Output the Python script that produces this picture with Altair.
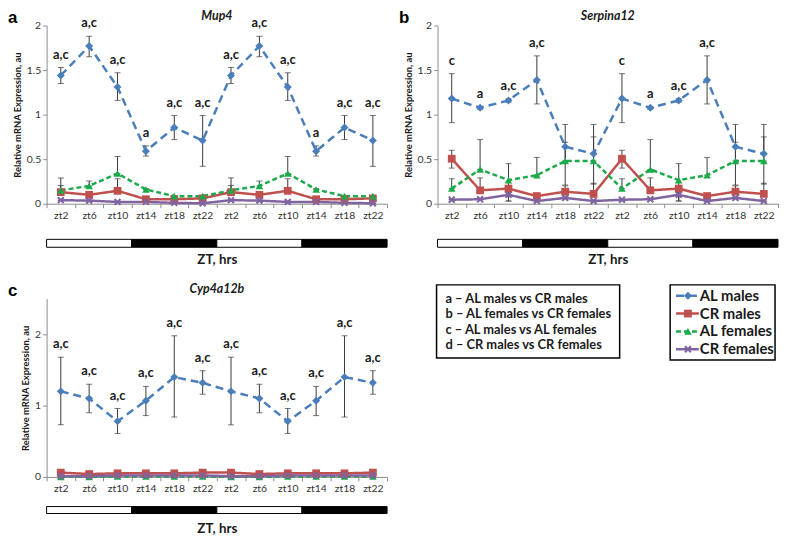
import altair as alt
import pandas as pd

# ---------------- categories ----------------
ZT = ["zt2", "zt6", "zt10", "zt14", "zt18", "zt22"]
# double-plotted 24 h cycle; the trailing space keeps the second cycle distinct
CATS = ZT + [z + " " for z in ZT]

SERIES = ["AL males", "CR males", "AL females", "CR females"]
COLORS = ["#4a7ebb", "#c0504d", "#1aaa4a", "#8064a2"]
DASHES = [[8, 5], [1, 0], [5, 3], [1, 0]]
X_PATH = ("M-1,-0.6L-0.6,-1L0,-0.4L0.6,-1L1,-0.6L0.4,0L1,0.6L0.6,1L0,0.4"
          "L-0.6,1L-1,0.6L-0.4,0Z")
SHAPES = ["diamond", "square", "triangle-up", X_PATH]
SIZES = [65, 55, 65, 60]

# light / dark bar (in category units)
LD_START = [0, 3, 6, 9]
LD_END = [3, 6, 9, 12]
LD_FILL = ["white", "black", "white", "black"]

# ---------------- Mup4 ----------------
MUP4_ALM = [1.44, 1.77, 1.31, 0.59, 0.855, 0.71]
MUP4_ALM_LO = [1.35, 1.65, 1.16, 0.535, 0.72, 0.42]
MUP4_ALM_HI = [1.53, 1.88, 1.47, 0.65, 0.99, 0.99]
MUP4_CRM = [0.13, 0.10, 0.145, 0.05, 0.05, 0.06]
MUP4_CRM_HI = [0.205, 0.13, 0.28, 0.06, 0.06, 0.07]
MUP4_ALF = [0.15, 0.20, 0.34, 0.16, 0.085, 0.085]
MUP4_ALF_HI = [0.29, 0.255, 0.53, 0.17, 0.09, 0.09]
MUP4_CRF = [0.04, 0.035, 0.02, 0.02, 0.01, 0.005]
MUP4_LABELS = ["a,c", "a,c", "a,c", "a", "a,c", "a,c"]

# ---------------- Serpina12 ----------------
SERP_ALM = [1.18, 1.077, 1.16, 1.39, 0.64, 0.56]
SERP_ALM_LO = [0.91, 1.06, 1.14, 1.12, 0.21, 0.22]
SERP_ALM_HI = [1.46, 1.09, 1.18, 1.66, 0.89, 0.89]
SERP_CRM = [0.505, 0.15, 0.17, 0.086, 0.135, 0.11]
SERP_CRM_LO = [0.40, 0.15, 0.17, 0.086, 0.135, 0.11]
SERP_CRM_HI = [0.60, 0.29, 0.17, 0.086, 0.20, 0.23]
SERP_ALF = [0.17, 0.385, 0.265, 0.32, 0.48, 0.48]
SERP_ALF_LO = [0.17, 0.385, 0.03, 0.32, 0.48, 0.48]
SERP_ALF_HI = [0.28, 0.72, 0.45, 0.52, 0.69, 0.75]
SERP_CRF = [0.045, 0.05, 0.10, 0.03, 0.065, 0.03]
SERP_CRF_LO = [0.045, 0.05, 0.03, 0.03, 0.065, 0.03]
SERP_CRF_HI = [0.045, 0.05, 0.13, 0.03, 0.065, 0.03]
SERP_LABELS = ["c", "a", "a,c", "a,c", "", ""]

# ---------------- Cyp4a12b ----------------
CYP_ALM = [1.20, 1.10, 0.78, 1.07, 1.40, 1.32]
CYP_ALM_LO = [0.73, 0.90, 0.61, 0.86, 0.84, 1.16]
CYP_ALM_HI = [1.68, 1.30, 0.96, 1.27, 1.98, 1.49]
CYP_CRM = [0.06, 0.04, 0.05, 0.05, 0.05, 0.06]
CYP_CRM_HI = [0.07, 0.05, 0.06, 0.06, 0.06, 0.08]
CYP_ALF = [0.0, 0.0, 0.005, 0.005, 0.005, 0.005]
CYP_CRF = [0.01, 0.01, 0.02, 0.02, 0.02, 0.02]
CYP_LABELS = ["a,c", "a,c", "a,c", "a,c", "a,c", "a,c"]

# ---------------- legend texts ----------------
KEY_LINES = ["a \u2013 AL males vs CR males",
             "b \u2013 AL females vs CR females",
             "c \u2013 AL males vs AL females",
             "d \u2013 CR males vs CR females"]

FONT = "Lato"
W = 344
H = 180


def build_df(means, los, his, labels):
    rows = []
    for s, m, lo, hi in zip(SERIES, means, los, his):
        for cyc in range(2):
            for i in range(6):
                rows.append(dict(cat=CATS[cyc * 6 + i], series=s, mean=m[i],
                                 lo=lo[i], hi=hi[i],
                                 lab=labels[i] if s == "AL males" else ""))
    return pd.DataFrame(rows)


def panel(name, letter, means, los, his, labels, ymax, yvals, bar_top, bar_h, title_pad):
    df = build_df(means, los, his, labels)
    base = alt.Chart(df)
    xenc = alt.X("cat:N", sort=CATS,
                 scale=alt.Scale(type="band", domain=CATS, paddingInner=0, paddingOuter=0),
                 axis=alt.Axis(title="ZT, hrs", labelAngle=0, tickBand="extent",
                               titlePadding=title_pad, tickSize=4, labelPadding=3,
                               labelFontSize=10.5, labelColor="#333333",
                               titleFontSize=13.5, titleFontWeight="bold",
                               titleColor="#1a1a1a", domainColor="#8c8c8c",
                               tickColor="#8c8c8c", labelFont=FONT, titleFont=FONT))
    yscale = alt.Scale(domain=[0, ymax], nice=False, zero=True)
    yaxis = alt.Axis(values=yvals, format="~g", grid=False,
                     title="Relative mRNA Expression, au", titleFontSize=9.5,
                     titleFontWeight="bold", titleColor="#1a1a1a", titlePadding=4,
                     labelFontSize=10.5, labelColor="#333333", labelPadding=2,
                     tickSize=4, domainColor="#8c8c8c", tickColor="#8c8c8c",
                     labelFont=FONT, titleFont=FONT)

    def Y(field):
        return alt.Y(field, scale=yscale, axis=yaxis)

    color = alt.Color("series:N", scale=alt.Scale(domain=SERIES, range=COLORS), legend=None)

    err = base.mark_rule(color="#3a3a3a", strokeWidth=1).encode(
        x=xenc, y=Y("lo:Q"), y2="hi:Q")
    cap_hi = base.mark_tick(color="#3a3a3a", size=6, thickness=1).encode(
        x=xenc, y=Y("hi:Q"))
    cap_lo = base.mark_tick(color="#3a3a3a", size=6, thickness=1).encode(
        x=xenc, y=Y("lo:Q"))
    line = base.mark_line(strokeWidth=2.5).encode(
        x=xenc, y=Y("mean:Q"), color=color,
        strokeDash=alt.StrokeDash("series:N",
                                  scale=alt.Scale(domain=SERIES, range=DASHES),
                                  legend=None))
    pts = base.mark_point(filled=True, opacity=1).encode(
        x=xenc, y=Y("mean:Q"), color=color,
        shape=alt.Shape("series:N", scale=alt.Scale(domain=SERIES, range=SHAPES),
                        legend=None),
        size=alt.Size("series:N", scale=alt.Scale(domain=SERIES, range=SIZES),
                      legend=None))
    txt = base.transform_filter("datum.lab != ''").mark_text(
        font=FONT, fontSize=13, fontWeight="bold", color="#1a1a1a",
        baseline="alphabetic", dy=-9).encode(
        x=xenc, y=Y("hi:Q"), text="lab:N")

    data_layers = alt.layer(err, cap_hi, cap_lo, line, pts, txt)

    ld = pd.DataFrame({"s": LD_START, "e": LD_END, "f": LD_FILL})
    bar = alt.Chart(ld).mark_rect(stroke="black", strokeWidth=1).encode(
        x=alt.X("s:Q", scale=alt.Scale(domain=[0, 12], nice=False), axis=None),
        x2="e:Q",
        y=alt.value(bar_top), y2=alt.value(bar_top + bar_h),
        fill=alt.Fill("f:N", scale=None))

    let = alt.Chart(pd.DataFrame({"t": [letter]})).mark_text(
        font="Liberation Sans", fontSize=17, fontWeight="bold", align="left",
        baseline="middle", color="black").encode(
        x=alt.value(-39), y=alt.value(-8), text="t:N")
    gene = alt.Chart(pd.DataFrame({"t": [name]})).mark_text(
        font=FONT, fontSize=12.5, fontWeight="bold", fontStyle="italic",
        align="center", baseline="middle", color="#1a1a1a").encode(
        x=alt.value(W / 2), y=alt.value(-10), text="t:N")

    return alt.layer(data_layers, bar, let, gene).resolve_scale(
        x="independent").properties(width=W, height=H)


pa = panel("Mup4", "a",
           [MUP4_ALM, MUP4_CRM, MUP4_ALF, MUP4_CRF],
           [MUP4_ALM_LO, MUP4_CRM, MUP4_ALF, MUP4_CRF],
           [MUP4_ALM_HI, MUP4_CRM_HI, MUP4_ALF_HI, MUP4_CRF],
           MUP4_LABELS, 2, [0, 0.5, 1, 1.5, 2], H + 36, 8, 32)
pb = panel("Serpina12", "b",
           [SERP_ALM, SERP_CRM, SERP_ALF, SERP_CRF],
           [SERP_ALM_LO, SERP_CRM_LO, SERP_ALF_LO, SERP_CRF_LO],
           [SERP_ALM_HI, SERP_CRM_HI, SERP_ALF_HI, SERP_CRF_HI],
           SERP_LABELS, 2, [0, 0.5, 1, 1.5, 2], H + 36, 8, 32)
pc = panel("Cyp4a12b", "c",
           [CYP_ALM, CYP_CRM, CYP_ALF, CYP_CRF],
           [CYP_ALM_LO, CYP_CRM, CYP_ALF, CYP_CRF],
           [CYP_ALM_HI, CYP_CRM_HI, CYP_ALF, CYP_CRF],
           CYP_LABELS, 2.5, [0, 1, 2], H + 30, 7, 28)

# ---------------- legend cell ----------------
key_df = pd.DataFrame({"row": list(range(len(KEY_LINES))), "txt": KEY_LINES})
ser_df = pd.DataFrame({"row": list(range(len(SERIES))), "series": SERIES})
legend_color = alt.Color("series:N", scale=alt.Scale(domain=SERIES, range=COLORS), legend=None)

key_box = alt.Chart(pd.DataFrame({"k": [0]})).mark_rect(
    fill="white", stroke="black", strokeWidth=1.5).encode(
    x=alt.value(-1), x2=alt.value(184), y=alt.value(-14), y2=alt.value(60))
key_txt = alt.Chart(key_df).mark_text(
    font=FONT, fontSize=13, fontWeight="bold", align="left", baseline="middle",
    color="#1a1a1a").encode(
    x=alt.value(8),
    y=alt.Y("row:Q", scale=alt.Scale(domain=[0, 3], range=[0, 47]), axis=None),
    text="txt:N")
key_layer = alt.layer(key_box, key_txt)

yl = alt.Y("row:Q", scale=alt.Scale(domain=[0, 3], range=[-3, 51]), axis=None)
ser_box = alt.Chart(pd.DataFrame({"k": [0]})).mark_rect(
    fill="white", stroke="black", strokeWidth=1.5).encode(
    x=alt.value(235), x2=alt.value(341), y=alt.value(-14), y2=alt.value(62))
ser_line = alt.Chart(ser_df).mark_rule(strokeWidth=2.5).encode(
    x=alt.value(241), x2=alt.value(264), y=yl, color=legend_color,
    strokeDash=alt.StrokeDash("series:N", scale=alt.Scale(domain=SERIES, range=DASHES),
                              legend=None))
ser_pts = alt.Chart(ser_df).mark_point(filled=True, opacity=1).encode(
    x=alt.value(253), y=yl, color=legend_color,
    shape=alt.Shape("series:N", scale=alt.Scale(domain=SERIES, range=SHAPES), legend=None),
    size=alt.Size("series:N", scale=alt.Scale(domain=SERIES, range=SIZES), legend=None))
ser_txt = alt.Chart(ser_df).mark_text(
    font=FONT, fontSize=15, fontWeight="bold", align="left", baseline="middle",
    color="#1a1a1a").encode(x=alt.value(265), y=yl, text="series:N")
ser_layer = alt.layer(ser_box, ser_line, ser_pts, ser_txt)

pl = alt.layer(key_layer, ser_layer).resolve_scale(y="independent").properties(
    width=W, height=H)

chart = alt.concat(pa, pb, pc, pl, columns=2, spacing={"row": 96, "column": 51},
                   bounds="flush").properties(
    padding={"left": 0, "top": -2, "right": 0, "bottom": 0}
).configure_view(stroke=None)

chart.save("out.html", embed_options={"renderer": "svg", "actions": False})
